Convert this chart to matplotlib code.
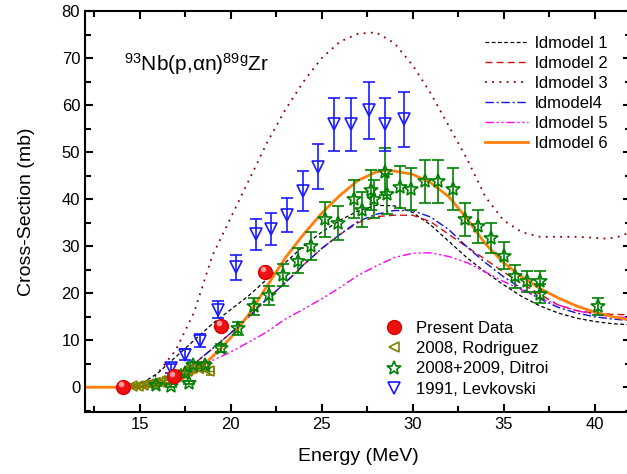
import matplotlib
matplotlib.use("Agg")
import matplotlib.pyplot as plt
from matplotlib.ticker import MultipleLocator
from matplotlib.lines import Line2D

plt.rcParams['font.family'] = ['Liberation Sans', 'DejaVu Sans']
plt.rcParams['mathtext.fontset'] = 'custom'
plt.rcParams['mathtext.rm'] = 'Liberation Sans'
plt.rcParams['mathtext.it'] = 'Liberation Sans:italic'

# ---- model curves ----
e_m1 = [14.5, 15, 16, 17, 18, 19, 20, 21, 22, 23, 24, 25, 26, 27, 28, 29, 30, 31, 32, 33, 34, 35, 36, 37, 38, 39, 40, 41, 42]
s_m1 = [0, 0.5, 3, 6.5, 10, 13.5, 16.5, 19.5, 23, 26.5, 30, 33, 35.5, 37.5, 38.7, 38.6, 37.2, 34.5, 31, 27.5, 24.5, 21.8, 19.3, 17.3, 15.8, 14.7, 14, 13.5, 13.3]

e_m2 = [15.5, 16, 17, 18, 19, 20, 21, 22, 23, 24, 25, 26, 27, 28, 29, 30, 31, 32, 33, 34, 35, 36, 37, 38, 39, 40, 41, 42]
s_m2 = [0, 0.6, 2.5, 5, 8.2, 11.5, 15, 18.8, 22.2, 26, 29.5, 32.5, 35, 36.3, 36.6, 36.6, 35.2, 32.5, 29.8, 27.2, 24.5, 22, 19.8, 17.5, 16.3, 15.8, 15.5, 15.4]

e_m3 = [15.3, 16, 17, 18, 19, 20, 21, 22, 23, 24, 25, 26, 27, 28, 29, 30, 31, 32, 33, 34, 35, 36, 37, 38, 39, 40, 40.7, 41.3, 42]
s_m3 = [0, 3, 8, 16, 28, 36, 44, 52, 59, 65, 70, 73.5, 75.2, 75.5, 73.2, 68.5, 62.5, 55.5, 48.5, 40.5, 35.5, 33, 32, 32, 32, 31.8, 31.6, 32, 33]

e_m4 = [15.5, 16, 17, 18, 19, 20, 21, 22, 23, 24, 25, 26, 27, 28, 29, 30, 31, 32, 33, 34, 35, 36, 37, 38, 39, 40, 41, 42]
s_m4 = [0, 0.6, 2.5, 5, 8.2, 11.5, 15, 18.8, 22.2, 26, 29.5, 32.5, 35.3, 36.8, 37.6, 37.6, 36.2, 33.5, 29.8, 26.5, 23.5, 21, 18.8, 17, 15.8, 15, 14.5, 14.2]

e_m5 = [16.5, 17, 18, 19, 20, 21, 22, 23, 24, 25, 26, 27, 28, 29, 30, 31, 32, 33, 34, 35, 36, 37, 38, 39, 40, 41, 42]
s_m5 = [0, 1.2, 3.7, 5.7, 7.5, 9.6, 11.8, 14.5, 16.6, 18.8, 21.2, 23.8, 25.8, 27.6, 28.5, 28.6, 27.8, 26.5, 24.5, 22.5, 20.7, 19, 17.5, 16.3, 15.5, 15, 14.8]

e_m6 = [12, 15, 16, 17, 18, 19, 20, 21, 22, 23, 24, 25, 26, 27, 28, 28.5, 29, 30, 31, 32, 33, 34, 35, 36, 37, 38, 39, 40, 41, 42]
s_m6 = [0, 0, 0.3, 1.2, 3, 6.5, 10.5, 15.5, 21.5, 27.5, 32.5, 37, 40.8, 44, 45.8, 46.2, 46, 45.3, 43.5, 40.5, 35.8, 30.5, 26.5, 23.5, 21, 19, 17.3, 16, 15, 14.3]

# ---- experimental data ----
e_present = [14.1, 16.9, 19.5, 21.9]
s_present = [0, 2.3, 13.1, 24.6]
d_present = [0.3, 0.4, 0.8, 1.2]

e_rod = [14.6, 14.9, 15.2, 15.5, 15.8, 16.1, 16.4, 16.7, 17.0, 17.3, 17.6, 17.9, 18.2, 18.5, 18.8]
s_rod = [0.2, 0.3, 0.5, 0.7, 0.9, 1.2, 1.5, 2.0, 2.5, 3.0, 3.5, 4.0, 4.2, 4.3, 3.5]
dx_rod = [0.3, 0.3, 0.3, 0.3, 0.3, 0.3, 0.3, 0.3, 0.3, 0.3, 0.3, 0.3, 0.3, 0.3, 0.3]
dy_rod = [0.4, 0.4, 0.5, 0.5, 0.5, 0.6, 0.6, 0.6, 0.7, 0.7, 0.7, 0.8, 0.8, 0.8, 0.8]

e_dit = [15.9, 16.7, 17.5, 17.7, 17.95, 18.6, 19.5, 20.4, 21.3, 22.1, 22.9, 23.7, 24.4, 25.2, 25.9, 26.8, 27.2, 27.7, 27.9,
         28.5, 28.6, 29.3, 29.9, 30.7, 31.4, 32.2, 32.9, 33.6, 34.3, 35.0, 35.6, 36.3, 37.0, 37.0, 40.2]
s_dit = [0.5, 0.3, 3.0, 1.0, 4.8, 4.7, 8.3, 12.5, 17.2, 19.6, 23.9, 26.9, 30.0, 35.7, 35.0, 40.1, 37.8, 42.0, 40.1,
         45.8, 41.1, 42.6, 42.2, 43.8, 43.8, 42.2, 35.7, 34.2, 31.8, 28.0, 23.6, 22.5, 22.5, 19.9, 17.2]
d_dit = [0.3, 0.3, 0.4, 0.4, 0.6, 0.6, 0.9, 1.3, 1.8, 2.0, 2.4, 2.7, 3.0, 3.8, 3.6, 4.0, 3.8, 4.2, 4.0,
         5.0, 4.2, 4.4, 4.4, 4.5, 4.5, 4.4, 3.6, 3.5, 3.2, 2.8, 2.4, 2.3, 2.3, 2.0, 1.8]

e_lev = [16.7, 17.5, 18.3, 19.3, 20.3, 21.4, 22.2, 23.1, 24.0, 24.8, 25.7, 26.6, 27.6, 28.5, 29.5]
s_lev = [4.0, 6.9, 9.9, 16.5, 25.5, 32.5, 33.7, 36.7, 41.7, 46.9, 55.9, 55.9, 58.9, 55.9, 57.0]
d_lev = [1.0, 1.2, 1.4, 1.8, 2.7, 3.2, 3.4, 3.6, 4.3, 4.8, 5.6, 5.6, 6.0, 5.6, 5.8]

fig = plt.figure(figsize=(6.27, 4.74), dpi=100)
ax = fig.add_axes([85/627, 62.3/474, 546/627, 400.5/474])

l1, = ax.plot(e_m1, s_m1, color='black', ls=(0, (3, 2)), lw=0.9, label='ldmodel 1')
l2, = ax.plot(e_m2, s_m2, color='#cc1111', ls=(0, (5, 3)), lw=1.0, label='ldmodel 2')
l3, = ax.plot(e_m3, s_m3, color='#8b0000', ls=(0, (1, 3)), lw=1.3, label='ldmodel 3')
l4, = ax.plot(e_m4, s_m4, color='#1111dd', ls=(0, (6, 2, 1.5, 2)), lw=1.0, label='ldmodel4')
l5, = ax.plot(e_m5, s_m5, color='#ff00ff', ls=(0, (6, 2, 1.5, 2, 1.5, 2)), lw=1.0, label='ldmodel 5')
l6, = ax.plot(e_m6, s_m6, color='#ff7f0e', ls='-', lw=2.0, label='ldmodel 6')

ax.errorbar(e_rod, s_rod, xerr=dx_rod, yerr=dy_rod, fmt='<', ms=7, mfc='none', mec='#808000',
            ecolor='#808000', elinewidth=1, capsize=2, mew=1.2)
ax.errorbar(e_dit, s_dit, yerr=d_dit, fmt='*', ms=10, mfc='none', mec='#008000',
            ecolor='#008000', elinewidth=1.2, capsize=4, mew=1.2)
ax.errorbar(e_lev, s_lev, yerr=d_lev, fmt='v', ms=9, mfc='none', mec='#1a1aff',
            ecolor='#1a1aff', elinewidth=1.2, capsize=4, mew=1.2)
ax.errorbar(e_present, s_present, yerr=d_present, fmt='o', ms=10, mfc='#ee1111', mec='#dd0000',
            ecolor='#ee1111', capsize=3, zorder=5)
# little highlight so the red balls look like spheres
ax.plot([e - 0.12 for e in e_present], [s + 0.6 for s in s_present], 'o', ms=3, color='#ff9999', zorder=6)

ax.set_xlim(12, 42)
ax.set_ylim(-5.2, 80)
ax.xaxis.set_major_locator(MultipleLocator(5))
ax.xaxis.set_minor_locator(MultipleLocator(2.5))
ax.yaxis.set_major_locator(MultipleLocator(10))
ax.yaxis.set_minor_locator(MultipleLocator(5))
ax.tick_params(which='both', direction='in', top=True, right=True, width=1.5, labelsize=12)
ax.tick_params(which='major', length=6)
ax.tick_params(which='minor', length=4)
for sp in ax.spines.values():
    sp.set_linewidth(1.5)

ax.set_xlabel('Energy (MeV)', fontsize=14, labelpad=12)
ax.set_ylabel('Cross-Section (mb)', fontsize=14, labelpad=19)

ax.text(0.071, 0.852, r'$^{\mathrm{93}}$Nb(p,αn)$^{\mathrm{89g}}$Zr', transform=ax.transAxes, fontsize=15)

leg1 = ax.legend(handles=[l1, l2, l3, l4, l5, l6], loc='upper right', bbox_to_anchor=(0.985, 0.975),
                 frameon=False, fontsize=12, handlelength=2.6, handletextpad=0.4, labelspacing=0.3)
ax.add_artist(leg1)

h_pre = Line2D([], [], ls='none', marker='o', ms=10, mfc='#ee1111', mec='#dd0000')
h_rod = Line2D([], [], ls='none', marker='<', ms=7, mfc='none', mec='#808000', mew=1.2)
h_dit = Line2D([], [], ls='none', marker='*', ms=10, mfc='none', mec='#008000', mew=1.2)
h_lev = Line2D([], [], ls='none', marker='v', ms=9, mfc='none', mec='#1a1aff', mew=1.2)
ax.legend([h_pre, h_rod, h_dit, h_lev], ['Present Data', '2008, Rodriguez', '2008+2009, Ditroi', '1991, Levkovski'],
          loc='lower left', bbox_to_anchor=(0.52, 0.0), frameon=False, fontsize=12,
          handlelength=1.2, handletextpad=0.7, labelspacing=0.32)

fig.savefig('out.png', dpi=100)
